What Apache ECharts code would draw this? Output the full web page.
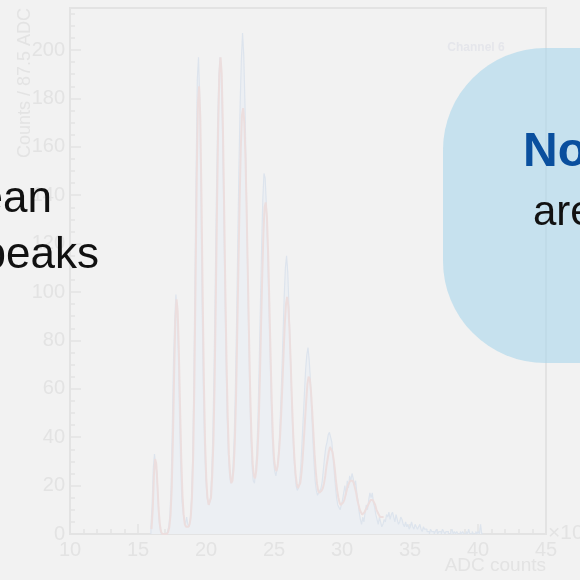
<!DOCTYPE html>
<html>
<head>
<meta charset="utf-8">
<script src="https://cdn.jsdelivr.net/npm/echarts@6/dist/echarts.min.js"></script>
<style>
  html, body { margin: 0; padding: 0; background: #f2f2f2; }
  #chart { width: 580px; height: 580px; }
</style>
</head>
<body>
<div id="chart"></div>
<script>
// Binning of the ADC spectrum (x in units of 10^3 ADC counts, 87.5 ADC per bin)
const binStart = 15.95;
const binWidth = 0.0875;

// Counts per bin, starting at binStart
const counts = [
  3, 12, 27, 33, 28, 26, 14, 5, 1, 0, 0,
  0, 0, 0,
  1, 3, 8, 20, 45, 72, 88, 99, 90, 76, 50, 28, 14, 9, 6, 4, 7, 4, 3,
  6, 14, 30, 60, 105, 150, 188, 197, 180, 140, 96, 62, 38, 24, 16, 13, 12, 15,
  24, 40, 66, 100, 138, 168, 188, 197, 190, 170, 140, 105, 75, 50, 34, 25, 21, 22,
  28, 40, 60, 88, 120, 152, 178, 196, 207, 198, 178, 150, 118, 86, 60, 40, 28, 22, 21,
  26, 34, 48, 70, 94, 118, 138, 149, 147, 136, 118, 96, 76, 56, 40, 30, 26, 24,
  27, 32, 40, 52, 66, 82, 98, 110, 115, 108, 94, 78, 60, 45, 33, 26, 20, 18, 19,
  22, 28, 38, 48, 58, 68, 74, 77, 72, 64, 52, 40, 30, 22, 18, 16, 17, 18,
  19, 22, 27, 32, 36, 38, 41, 42, 40, 38, 32, 26, 20, 15, 12, 11, 10, 12,
  14, 17, 20, 16, 22, 19, 24, 22, 25, 23, 20, 22, 17, 14, 9, 6, 4, 7,
  5, 9, 12, 10, 14, 17, 15, 17, 13, 11, 8, 6, 4, 7, 5, 3,
  4, 6, 5, 8, 7, 9, 6, 8, 9, 7, 5, 8, 6, 4, 5, 7, 6, 4, 3, 5,
  3, 4, 2, 3, 5, 3, 2, 4, 3, 2, 3, 4, 2, 1, 3, 2, 2, 1,
  1, 0, 2, 1, 1, 0, 1, 2, 0, 1, 1, 0, 2, 1, 0, 1, 1, 0, 0, 1,
  2, 0, 1, 0, 1, 0, 0, 1, 0, 1, 0, 0, 1, 0, 2, 0, 0, 1, 0, 0,
  1, 0, 1, 0, 4, 0
];

// Multi-peak fit, evaluated at the bin centres
const fitValues = [
  2, 10, 24, 31, 29, 20, 10, 4, 1, 0, 0,
  0, 0, 0, 1, 3, 8, 19, 40, 66, 88, 97, 92, 75, 52, 31, 16, 8, 4, 3, 3, 3, 4,
  7, 15, 32, 62, 104, 148, 178, 185, 172, 138, 98, 63, 38, 23, 15, 12, 12, 15,
  24, 38, 62, 96, 134, 168, 190, 197, 190, 168, 136, 102, 72, 49, 33, 25, 21, 22,
  27, 38, 56, 82, 110, 137, 159, 173, 176, 170, 155, 132, 106, 80, 57, 40, 29, 24, 23,
  26, 33, 45, 63, 85, 106, 124, 135, 137, 131, 116, 96, 75, 55, 40, 31, 27, 26,
  28, 33, 40, 50, 62, 75, 87, 95, 98, 94, 84, 70, 55, 42, 32, 25, 21, 19, 19,
  21, 25, 31, 39, 47, 55, 62, 65, 64, 59, 51, 42, 33, 26, 21, 18, 17, 17,
  18, 19, 21, 24, 28, 31, 34, 36, 36, 34, 31, 27, 22, 18, 15, 13, 12, 12,
  13, 14, 16, 18, 20, 21, 22, 22, 22, 21, 19, 17, 14, 12, 10, 9, 8, 8,
  9, 10, 11, 12, 13, 14, 14, 14, 13, 12, 10, 9, 8, 7, 7, 7, 7
];

// Axis ranges
const xMin = 10, xMax = 45, xStep = 5;
const yMin = 0, yMax = 217.35, yStep = 20;

const font = '"Liberation Sans", Arial, Helvetica, sans-serif';
const faint = '#e3e3e3';

// Histogram outline: one point per bin left edge, drawn as steps
const histData = [[binStart, 0]];
counts.forEach((c, i) => histData.push([binStart + i * binWidth, c]));
histData.push([binStart + counts.length * binWidth, 0]);

const fitData = fitValues.map((v, i) => [binStart + (i + 0.5) * binWidth, v]);

const chart = echarts.init(document.getElementById('chart'), null, { renderer: 'canvas' });

chart.setOption({
  backgroundColor: '#f2f2f2',
  animation: false,
  grid: {
    left: 70, right: 34, top: 8, bottom: 46,
    show: true, borderColor: faint, borderWidth: 2, backgroundColor: 'transparent'
  },
  xAxis: {
    type: 'value', min: xMin, max: xMax, interval: xStep,
    axisLine: { lineStyle: { color: faint, width: 2 } },
    axisTick: { inside: true, length: 10, lineStyle: { color: faint, width: 1.5 } },
    minorTick: { show: true, splitNumber: 5, length: 5, lineStyle: { color: faint, width: 1.5 } },
    axisLabel: { color: faint, fontSize: 20, fontFamily: font, margin: 6 },
    splitLine: { show: false }
  },
  yAxis: {
    type: 'value', min: yMin, max: yMax, interval: yStep,
    axisLine: { show: true, lineStyle: { color: faint, width: 2 } },
    axisTick: { inside: true, length: 11, lineStyle: { color: faint, width: 1.5 } },
    minorTick: { show: true, splitNumber: 4, length: 5, lineStyle: { color: faint, width: 1.5 } },
    axisLabel: { color: faint, fontSize: 20, fontFamily: font, margin: 5, showMaxLabel: false },
    splitLine: { show: false }
  },
  series: [
    {
      type: 'line', data: histData, step: 'end', symbol: 'none',
      lineStyle: { color: '#dde4ed', width: 1.2 },
      areaStyle: { color: '#ecEff3', opacity: 1 },
      z: 2
    },
    {
      type: 'line', data: fitData, symbol: 'none', smooth: false,
      lineStyle: { color: '#ecdede', width: 2 },
      z: 3
    }
  ],
  graphic: [
    {
      type: 'text', z: 50, x: 25, y: 8, rotation: Math.PI / 2,
      style: { text: 'Counts / 87.5 ADC', font: '18px ' + font, fill: faint, align: 'right', verticalAlign: 'middle' }
    },
    {
      type: 'text', z: 50, x: 546, y: 566,
      style: { text: 'ADC counts', font: '19px ' + font, fill: faint, align: 'right', verticalAlign: 'middle' }
    },
    {
      type: 'text', z: 50, x: 548, y: 533,
      style: {
        text: '{a|×10}{b|3}', fill: faint, align: 'left', verticalAlign: 'middle',
        rich: {
          a: { fontSize: 21, fontFamily: font, color: faint },
          b: { fontSize: 14, fontFamily: font, color: faint, verticalAlign: 'top', padding: [0, 0, 10, 0] }
        }
      }
    },
    {
      type: 'text', z: 50, x: 476, y: 48,
      style: { text: 'Channel 6', font: 'bold 12px ' + font, fill: '#e5e6eb', align: 'center', verticalAlign: 'middle' }
    },
    {
      type: 'rect', z: 100,
      shape: { x: 443, y: 48, width: 260, height: 315, r: 102 },
      style: { fill: 'rgba(169,214,235,0.6)' }
    },
    {
      type: 'text', z: 110, x: 52, y: 200,
      style: { text: 'ean', font: '44px ' + font, fill: '#111111', align: 'right', verticalAlign: 'middle' }
    },
    {
      type: 'text', z: 110, x: 99, y: 256,
      style: { text: 'peaks', font: '44px ' + font, fill: '#111111', align: 'right', verticalAlign: 'middle' }
    },
    {
      type: 'text', z: 110, x: 523, y: 153,
      style: { text: 'No', font: 'bold 48px ' + font, fill: '#0a4f9e', align: 'left', verticalAlign: 'middle' }
    },
    {
      type: 'text', z: 110, x: 533, y: 213,
      style: { text: 'are', font: '42px ' + font, fill: '#111111', align: 'left', verticalAlign: 'middle' }
    }
  ]
});
</script>
</body>
</html>
